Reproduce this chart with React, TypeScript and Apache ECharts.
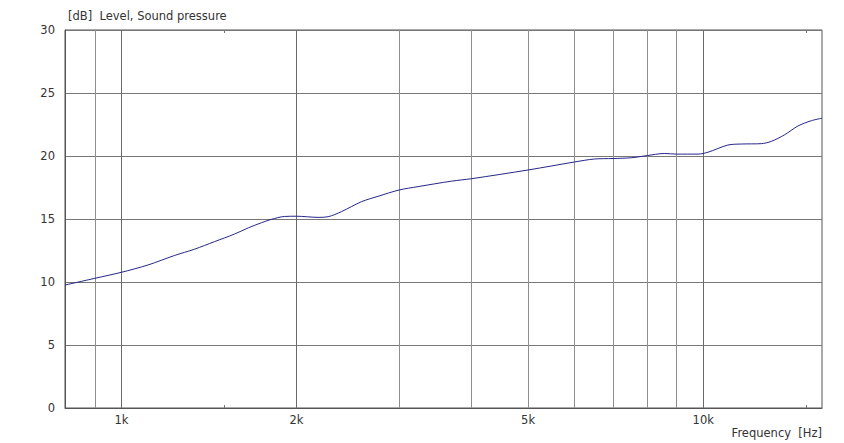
import React, { useEffect, useRef } from "react";
import * as echarts from "echarts";

const freqs = [800, 900, 1000, 1111, 1233, 1335, 1445, 1564, 1653, 1740, 1810, 1906, 2000, 2178, 2266, 2388, 2585, 2761, 3000, 3235, 3690, 4000, 5000, 6000, 6496, 7000, 7521, 8000, 8570, 9000, 9793, 10190, 11025, 11623, 12585, 13090, 13783, 14546, 15335, 16000];
const levels = [9.76, 10.29, 10.77, 11.35, 12.1, 12.6, 13.2, 13.8, 14.3, 14.7, 14.97, 15.2, 15.22, 15.13, 15.18, 15.58, 16.37, 16.8, 17.3, 17.57, 18.0, 18.2, 18.89, 19.52, 19.76, 19.8, 19.86, 20.03, 20.2, 20.15, 20.15, 20.3, 20.87, 20.95, 20.98, 21.16, 21.67, 22.38, 22.8, 23.0];

const gridFreqs = [900, 1000, 2000, 3000, 4000, 5000, 6000, 7000, 8000, 9000, 10000];
const majorFreqs = [1000, 2000, 10000];
const labelFreqs: Record<number, string> = { 1000: "1k", 2000: "2k", 5000: "5k", 10000: "10k" };
const minorTickFreqs = [1500, 15000];

const FONT = "DejaVu Sans";

export default function App() {
  const ref = useRef<HTMLDivElement>(null);
  useEffect(() => {
    const chart = echarts.init(ref.current!, null, { renderer: "svg" });
    const vLines: any[] = gridFreqs.map((f) => ({
      xAxis: f,
      lineStyle: { color: majorFreqs.includes(f) ? "#6a6a6a" : "#8e8e8e", width: 1, type: "solid" },
      label: labelFreqs[f]
        ? { show: true, position: "start", formatter: labelFreqs[f], color: "#333", fontFamily: FONT, fontSize: 11.5, distance: 6 }
        : { show: false },
    }));
    chart.setOption({
      animation: false,
      backgroundColor: "#ffffff",
      title: {
        text: "[dB]  Level, Sound pressure",
        left: 63,
        top: 5,
        textStyle: { fontFamily: FONT, fontSize: 11.5, fontWeight: "normal", color: "#333" },
      },
      grid: { left: 65, top: 30, right: 22, bottom: 35, show: true, borderColor: "#555", borderWidth: 1 },
      xAxis: {
        type: "log",
        logBase: 10,
        min: 800,
        max: 16000,
        name: "Frequency  [Hz]",
        nameLocation: "end",
        nameGap: 0,
        nameTextStyle: { fontFamily: FONT, fontSize: 11.5, color: "#333", align: "right", verticalAlign: "top", padding: [19, 0, 0, 0] },
        axisLine: { show: true, lineStyle: { color: "#555" } },
        axisTick: { show: false },
        axisLabel: { show: false },
        splitLine: { show: false },
        minorSplitLine: { show: false },
      },
      yAxis: {
        type: "value",
        min: 0,
        max: 30,
        interval: 5,
        axisLine: { show: true, lineStyle: { color: "#555" } },
        axisTick: { show: false },
        axisLabel: { fontFamily: FONT, fontSize: 11.5, color: "#333", margin: 10 },
        splitLine: { show: true, lineStyle: { color: "#777", width: 1 } },
      },
      series: [
        {
          type: "line",
          data: freqs.map((f, i) => [f, levels[i]]),
          smooth: 0.3,
          showSymbol: false,
          lineStyle: { color: "#26268a", width: 1 },
          z: 5,
          markLine: {
            silent: true,
            symbol: "none",
            animation: false,
            data: vLines,
          },
        },
      ],
    });
    const tickEls: any[] = [];
    minorTickFreqs.forEach((f) => {
      const b = chart.convertToPixel({ xAxisIndex: 0, yAxisIndex: 0 }, [f, 0]) as number[];
      const t = chart.convertToPixel({ xAxisIndex: 0, yAxisIndex: 0 }, [f, 30]) as number[];
      const x = Math.round(b[0]) + 0.5;
      tickEls.push({ type: "line", shape: { x1: x, y1: b[1], x2: x, y2: b[1] - 3 }, style: { stroke: "#777", lineWidth: 1 }, silent: true });
      tickEls.push({ type: "line", shape: { x1: x, y1: t[1], x2: x, y2: t[1] + 3 }, style: { stroke: "#777", lineWidth: 1 }, silent: true });
    });
    chart.setOption({ graphic: tickEls });
    return () => chart.dispose();
  }, []);
  return <div ref={ref} style={{ position: "absolute", left: 0, top: 0, width: 844, height: 443 }} />;
}
